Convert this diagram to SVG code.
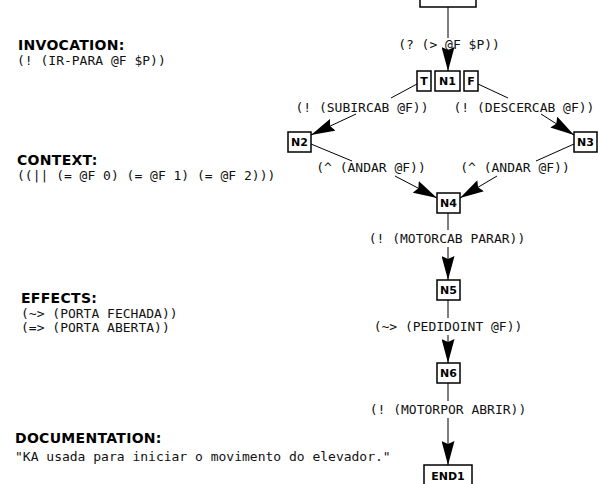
<svg xmlns="http://www.w3.org/2000/svg" width="598" height="484" viewBox="0 0 598 484">
<style>
.bg{fill:#fff}
.hdr{font-family:"DejaVu Sans",Verdana,sans-serif;font-weight:bold;font-size:14px;letter-spacing:0.3px;fill:#000}
.mono{font-family:"DejaVu Sans Mono","Liberation Mono",monospace;font-size:13px;fill:#111}
.lbl{font-family:"DejaVu Sans Mono","Liberation Mono",monospace;font-size:13px;fill:#111;text-anchor:middle}
.box{fill:#fff;stroke:#000;stroke-width:1.5}
.nt{font-family:"DejaVu Sans",Verdana,sans-serif;font-weight:bold;font-size:11px;fill:#000;text-anchor:middle}
.ln{fill:none;stroke:#000;stroke-width:1}
</style>
<defs>
<marker id="ah" markerWidth="24" markerHeight="13" refX="24" refY="6.5" orient="auto" markerUnits="userSpaceOnUse">
<path d="M0,0 L24,6.5 L0,13 L3,6.5 z" fill="#000"/>
</marker>
</defs>
<rect class="bg" x="0" y="0" width="598" height="484"/>

<g id="panel">
<text class="hdr" x="18" y="50">INVOCATION:</text>
<text class="mono" x="17" y="65">(! (IR-PARA @F $P))</text>
<text class="hdr" x="17" y="165">CONTEXT:</text>
<text class="mono" x="17" y="180">((|| (= @F 0) (= @F 1) (= @F 2)))</text>
<text class="hdr" x="21" y="303">EFFECTS:</text>
<text class="mono" x="21" y="318">(~&gt; (PORTA FECHADA))</text>
<text class="mono" x="21" y="332">(=&gt; (PORTA ABERTA))</text>
<text class="hdr" x="15" y="443">DOCUMENTATION:</text>
<text class="mono" x="15" y="461">"KA usada para iniciar o movimento do elevador."</text>
</g>

<g id="connectors">
<path class="ln" d="M448,7 V38"/>
<path class="ln" d="M448,53 V71" marker-end="url(#ah)"/>
<text class="lbl" x="449" y="49">(? (&gt; @F $P))</text>

<path class="ln" d="M417,84 L391,98"/>
<path class="ln" d="M356,114 L311,135" marker-end="url(#ah)"/>
<text class="lbl" x="362" y="112">(! (SUBIRCAB @F))</text>

<path class="ln" d="M478,84 L508,98"/>
<path class="ln" d="M541,114 L574,135" marker-end="url(#ah)"/>
<text class="lbl" x="524" y="112">(! (DESCERCAB @F))</text>

<path class="ln" d="M311,144 L352,161"/>
<path class="ln" d="M395,176 L437,198" marker-end="url(#ah)"/>
<text class="lbl" x="371" y="172">(^ (ANDAR @F))</text>

<path class="ln" d="M574,144 L536,161"/>
<path class="ln" d="M497,176 L460,198" marker-end="url(#ah)"/>
<text class="lbl" x="515" y="172">(^ (ANDAR @F))</text>

<path class="ln" d="M448,212 V230"/>
<path class="ln" d="M448,247 V280" marker-end="url(#ah)"/>
<text class="lbl" x="447" y="243">(! (MOTORCAB PARAR))</text>

<path class="ln" d="M448,300 V318"/>
<path class="ln" d="M448,335 V363" marker-end="url(#ah)"/>
<text class="lbl" x="448" y="331">(~&gt; (PEDIDOINT @F))</text>

<path class="ln" d="M448,383 V401"/>
<path class="ln" d="M448,418 V465" marker-end="url(#ah)"/>
<text class="lbl" x="448" y="414">(! (MOTORPOR ABRIR))</text>
</g>

<g id="start"><rect class="box" x="420" y="-14" width="56" height="21"/></g>
<g id="T"><rect class="box" x="417" y="71" width="14" height="20"/><text class="nt" x="424" y="85">T</text></g>
<g id="N1"><rect class="box" x="435" y="71" width="25" height="20"/><text class="nt" x="447.5" y="85">N1</text></g>
<g id="F"><rect class="box" x="464" y="71" width="14" height="20"/><text class="nt" x="471" y="85">F</text></g>
<g id="N2"><rect class="box" x="288" y="132" width="23" height="20"/><text class="nt" x="299.5" y="146">N2</text></g>
<g id="N3"><rect class="box" x="574" y="132" width="23" height="20"/><text class="nt" x="585.5" y="146">N3</text></g>
<g id="N4"><rect class="box" x="437" y="193" width="23" height="20"/><text class="nt" x="448.5" y="207">N4</text></g>
<g id="N5"><rect class="box" x="437" y="280" width="23" height="20"/><text class="nt" x="448.5" y="294">N5</text></g>
<g id="N6"><rect class="box" x="437" y="363" width="23" height="20"/><text class="nt" x="448.5" y="377">N6</text></g>
<g id="END1"><rect class="box" x="424" y="465" width="48" height="22"/><text class="nt" x="448" y="480">END1</text></g>
</svg>
